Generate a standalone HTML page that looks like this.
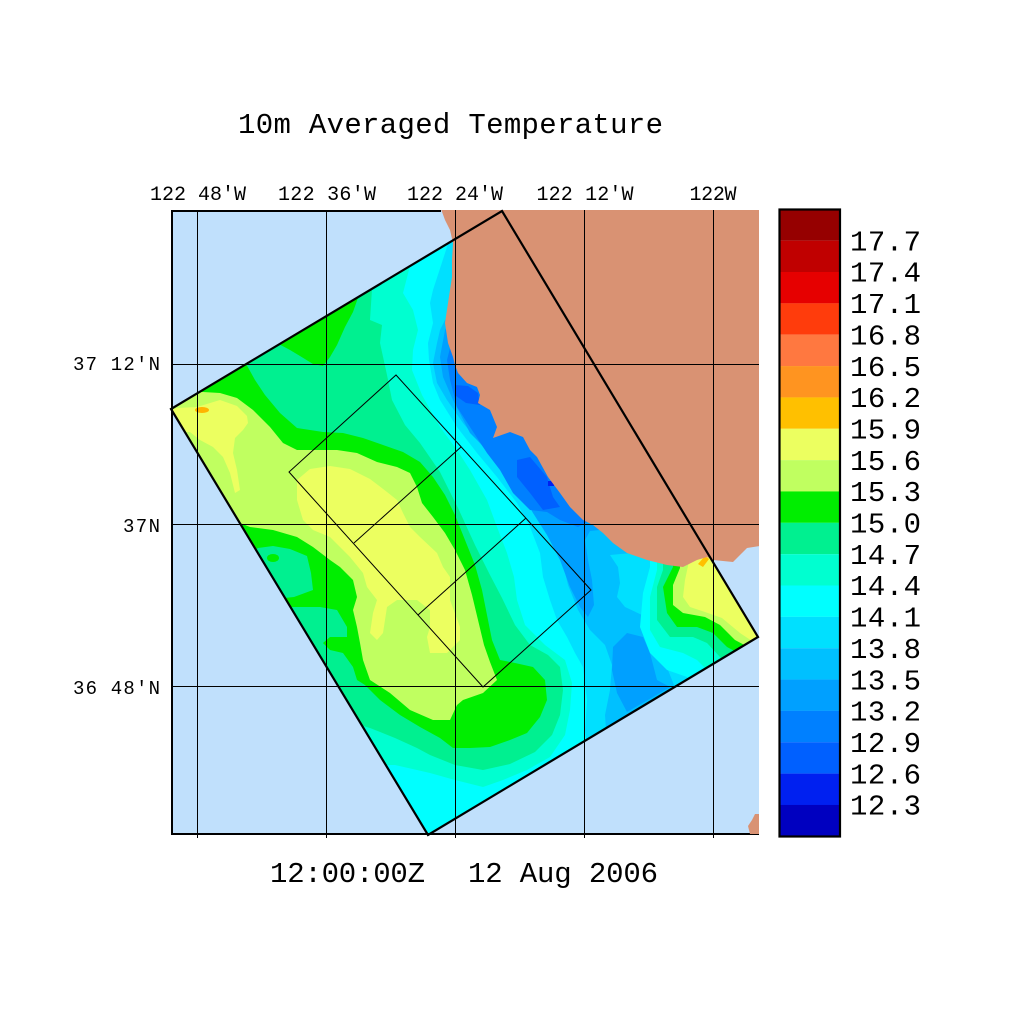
<!DOCTYPE html>
<html>
<head>
<meta charset="utf-8">
<style>
html,body{margin:0;padding:0;background:#fff;}
svg{display:block;}
text{font-family:"Liberation Mono","DejaVu Sans Mono",monospace;fill:#000;}
</style>
</head>
<body>
<svg width="1024" height="1024" viewBox="0 0 1024 1024" xmlns="http://www.w3.org/2000/svg">
<defs>
<clipPath id="dom"><polygon points="502,211 758,637 428,835 171,409"/></clipPath>
<clipPath id="frame"><rect x="171" y="210" width="588" height="625"/></clipPath>
</defs>
<rect width="1024" height="1024" fill="#fff"/>

<!-- Title -->
<text x="238" y="133" font-size="29" textLength="425" lengthAdjust="spacing">10m Averaged Temperature</text>

<!-- ocean background -->
<rect x="171" y="210" width="588" height="625" fill="#c0e0fc"/>

<g clip-path="url(#frame)">
<g clip-path="url(#dom)">
<rect x="150" y="200" width="620" height="650" fill="#00f090"/>
<!-- cold nested regions -->
<polygon fill="#00ffd0" points="372,280 372,289 370,320 382,325 380,343 387,375 392,400 405,425 420,443 440,472 458,508 475,545 490,575 502,598 515,625 530,645 548,655 560,667 563,690 560,715 552,735 535,752 510,764 483,770 455,765 430,755 417,748 395,738 370,728 350,722 400,860 780,660 780,200 372,200"/>
<polygon fill="#00ffff" points="410,255 410,266 403,293 413,310 418,330 413,350 412,370 422,395 440,427 457,450 470,470 487,500 497,527 507,553 514,577 517,600 525,625 545,645 565,660 572,683 570,710 565,735 550,757 527,770 503,780 483,787 455,780 430,773 417,770 395,765 375,765 420,860 780,660 780,200 410,200"/>
<polygon fill="#00e0ff" points="452,200 447,247 433,290 430,303 433,323 428,343 429,360 433,383 440,400 457,427 477,453 497,477 517,503 530,527 540,553 543,577 550,600 557,620 567,637 575,653 583,667 587,700 585,730 588,760 780,660 780,200"/>
<polygon fill="#00c0ff" points="470,200 458,300 445,320 440,330 437,343 433,363 437,383 447,400 463,423 483,447 500,467 513,487 527,503 543,522 555,540 562,560 568,585 578,610 590,630 605,645 612,665 610,690 605,715 607,745 780,660 780,200"/>
<polygon fill="#00a0ff" points="600,530 590,531 585,540 588,560 592,580 594,605 588,617 580,607 570,587 560,560 547,535 533,513 520,490 503,465 487,450 470,433 453,400 443,377 440,357 445,330 452,318 470,300 620,520"/>
<polygon fill="#00a0ff" points="613,647 627,633 643,637 650,653 657,680 670,687 653,697 627,712 617,693 612,670"/>
<polygon fill="#0080ff" points="452,340 447,360 450,380 457,407 470,427 487,453 500,470 513,493 530,510 547,512 560,520 578,527 600,515 560,460 500,400 470,350"/>
<polygon fill="#0060ff" points="517,460 530,457 547,477 553,497 560,507 543,510 530,493 517,477"/>
<polygon fill="#0060ff" points="455,385 468,386 478,393 480,405 466,403 456,396"/>
<rect x="548" y="481" width="6" height="5" fill="#0020f0"/>
<!-- SE warm patch -->
<polygon fill="#00e0ff" points="610,555 618,567 620,583 617,597 625,607 642,615 655,628 662,650 668,670 678,695 780,660 770,540"/>
<polygon fill="#00ffff" points="650,555 650,567 643,593 640,627 650,653 667,670 687,677 695,690 780,660 770,540"/>
<polygon fill="#00ffd0" points="657,555 657,570 650,597 650,630 660,647 683,653 697,660 712,675 780,660 770,540"/>
<polygon fill="#00f090" points="663,555 663,570 657,587 657,620 670,637 693,637 707,643 720,657 728,665 780,660 770,540"/>
<polygon fill="#00ee00" points="673,555 673,567 663,587 667,613 677,627 697,627 713,633 727,647 742,655 780,660 770,540"/>
<polygon fill="#c0ff60" points="680,555 680,568 673,585 673,605 683,613 705,617 720,625 735,640 750,648 780,660 770,540"/>
<polygon fill="#ecff60" points="690,555 688,566 685,580 683,597 690,607 705,612 722,618 740,633 755,643 780,660 770,540"/>
<polygon fill="#ffc000" points="698,564 705,556 709,559 703,567"/>
<!-- warm west -->
<polygon fill="#00ee00" points="195,388 245,362 255,380 265,395 280,413 297,428 323,432 343,433 363,438 383,445 403,452 420,462 433,477 445,495 455,515 465,540 475,565 482,590 487,615 492,640 500,660 515,663 533,667 545,680 547,700 540,717 527,733 510,740 490,747 470,748 453,748 440,738 420,727 400,715 380,700 365,685 357,680 353,667 343,653 330,650 323,643 330,637 347,637 347,627 337,610 320,607 290,607 270,610 200,470 160,405"/>
<polygon fill="#00f090" points="258,548 273,546 290,549 307,556 311,573 313,590 294,597 284,598 240,560"/>
<ellipse cx="273" cy="558" rx="6" ry="4" fill="#00ee00"/>
<polygon fill="#00ee00" points="275,342 360,292 353,312 345,327 337,345 330,357 323,366 313,364 300,356 290,350"/>
<polygon fill="#c0ff60" points="190,392 203,392 220,393 237,398 253,410 270,427 283,443 297,450 317,450 337,450 357,453 377,462 397,467 410,473 417,487 422,503 433,517 445,533 455,550 465,570 472,595 478,620 484,645 490,662 497,680 483,693 463,700 457,705 450,720 433,720 410,710 390,693 370,680 363,660 360,643 357,627 353,610 357,597 353,580 340,567 330,560 313,547 297,537 273,530 250,527 240,523 225,525 160,412"/>
<polygon fill="#ecff60" points="165,412 177,408 197,407 220,400 237,406 247,416 248,423 243,430 235,438 233,453 237,470 240,490 235,493 230,473 223,457 213,447 200,440 190,432 176,432"/>
<polygon fill="#ecff60" points="297,480 310,469 330,466 350,469 370,479 387,492 397,500 403,513 410,527 420,537 437,553 443,567 450,577 450,600 460,627 460,640 447,653 430,653 427,637 430,627 430,610 417,600 397,600 387,607 383,633 377,640 370,633 373,613 377,600 367,587 363,573 350,557 330,537 313,530 303,520 297,500"/>
<ellipse cx="202" cy="410" rx="7" ry="3" fill="#ffb400"/>
</g>

<!-- frame lines -->
<line x1="171" y1="211" x2="441" y2="211" stroke="#000" stroke-width="2"/>
<line x1="172" y1="210" x2="172" y2="835" stroke="#000" stroke-width="2"/>
<line x1="171" y1="834" x2="759" y2="834" stroke="#000" stroke-width="2"/>

<!-- land -->
<polygon fill="#d99273" points="441,209 445,220 450,230 453,243 452,260 452,277 448,303 445,323 448,343 453,357 455,365 458,373 467,383 477,387 480,395 478,403 490,410 497,427 493,438 510,432 523,437 530,450 537,457 548,477 560,493 570,507 583,520 593,525 603,533 613,543 627,553 647,560 667,565 683,567 697,560 707,557 713,560 733,562 742,553 747,548 760,546 760,209"/>
<polygon fill="#d99273" points="750,834 748,826 752,820 755,814 760,814 760,834"/>
</g>

<!-- grid -->
<g stroke="#000" stroke-width="1">
<line x1="197.5" y1="210" x2="197.5" y2="838"/>
<line x1="326.5" y1="210" x2="326.5" y2="838"/>
<line x1="455.5" y1="210" x2="455.5" y2="838"/>
<line x1="584.5" y1="210" x2="584.5" y2="838"/>
<line x1="713.5" y1="210" x2="713.5" y2="838"/>
<line x1="171" y1="364.5" x2="759" y2="364.5"/>
<line x1="171" y1="524.5" x2="759" y2="524.5"/>
<line x1="171" y1="686.5" x2="759" y2="686.5"/>
</g>

<!-- domain outline -->
<polygon points="502,211 758,637 428,835 171,409" fill="none" stroke="#000" stroke-width="2.2" stroke-linejoin="miter"/>
<!-- inner boxes -->
<g fill="none" stroke="#000" stroke-width="1">
<polygon points="396,375 591,590 483,687 289,472"/>
<line x1="461" y1="447" x2="354" y2="543"/>
<line x1="526" y1="518" x2="418" y2="615"/>
</g>

<!-- lon labels -->
<g font-size="20" text-anchor="middle">
<text x="198" y="200" textLength="96" lengthAdjust="spacing">122 48'W</text>
<text x="327" y="200" textLength="98" lengthAdjust="spacing">122 36'W</text>
<text x="455" y="200" textLength="96" lengthAdjust="spacing">122 24'W</text>
<text x="585" y="200" textLength="97" lengthAdjust="spacing">122 12'W</text>
<text x="713" y="200" textLength="47" lengthAdjust="spacing">122W</text>
</g>
<!-- lat labels -->
<g font-size="19" text-anchor="end">
<text x="160" y="370" textLength="87" lengthAdjust="spacing">37 12'N</text>
<text x="160" y="532" textLength="37" lengthAdjust="spacing">37N</text>
<text x="160" y="694" textLength="87" lengthAdjust="spacing">36 48'N</text>
</g>

<!-- time label -->
<text x="270" y="882" font-size="29" textLength="155" lengthAdjust="spacing">12:00:00Z</text>
<text x="468" y="882" font-size="29" textLength="190" lengthAdjust="spacing">12 Aug 2006</text>

<!-- colorbar -->
<g>
<rect x="780" y="209.3" width="60" height="31.4" fill="#960000"/>
<rect x="780" y="240.65" width="60" height="31.4" fill="#c00000"/>
<rect x="780" y="272.0" width="60" height="31.4" fill="#e60000"/>
<rect x="780" y="303.35" width="60" height="31.4" fill="#ff3c0c"/>
<rect x="780" y="334.7" width="60" height="31.4" fill="#ff7840"/>
<rect x="780" y="366.05" width="60" height="31.4" fill="#ff9420"/>
<rect x="780" y="397.4" width="60" height="31.4" fill="#ffc000"/>
<rect x="780" y="428.75" width="60" height="31.4" fill="#ecff60"/>
<rect x="780" y="460.1" width="60" height="31.4" fill="#c0ff60"/>
<rect x="780" y="491.45" width="60" height="31.4" fill="#00ee00"/>
<rect x="780" y="522.8" width="60" height="31.4" fill="#00f090"/>
<rect x="780" y="554.15" width="60" height="31.4" fill="#00ffd0"/>
<rect x="780" y="585.5" width="60" height="31.4" fill="#00ffff"/>
<rect x="780" y="616.85" width="60" height="31.4" fill="#00e0ff"/>
<rect x="780" y="648.2" width="60" height="31.4" fill="#00c0ff"/>
<rect x="780" y="679.55" width="60" height="31.4" fill="#00a0ff"/>
<rect x="780" y="710.9" width="60" height="31.4" fill="#0080ff"/>
<rect x="780" y="742.25" width="60" height="31.4" fill="#0060ff"/>
<rect x="780" y="773.6" width="60" height="31.4" fill="#0020f0"/>
<rect x="780" y="804.95" width="60" height="31.4" fill="#0000c0"/>
<rect x="779.5" y="209.5" width="60.5" height="627" fill="none" stroke="#000" stroke-width="2.2"/>
</g>
<g font-size="29">
<text x="850" y="250.4" textLength="71" lengthAdjust="spacing">17.7</text>
<text x="850" y="281.7" textLength="71" lengthAdjust="spacing">17.4</text>
<text x="850" y="313.1" textLength="71" lengthAdjust="spacing">17.1</text>
<text x="850" y="344.4" textLength="71" lengthAdjust="spacing">16.8</text>
<text x="850" y="375.8" textLength="71" lengthAdjust="spacing">16.5</text>
<text x="850" y="407.1" textLength="71" lengthAdjust="spacing">16.2</text>
<text x="850" y="438.5" textLength="71" lengthAdjust="spacing">15.9</text>
<text x="850" y="469.8" textLength="71" lengthAdjust="spacing">15.6</text>
<text x="850" y="501.2" textLength="71" lengthAdjust="spacing">15.3</text>
<text x="850" y="532.5" textLength="71" lengthAdjust="spacing">15.0</text>
<text x="850" y="563.9" textLength="71" lengthAdjust="spacing">14.7</text>
<text x="850" y="595.2" textLength="71" lengthAdjust="spacing">14.4</text>
<text x="850" y="626.6" textLength="71" lengthAdjust="spacing">14.1</text>
<text x="850" y="657.9" textLength="71" lengthAdjust="spacing">13.8</text>
<text x="850" y="689.3" textLength="71" lengthAdjust="spacing">13.5</text>
<text x="850" y="720.6" textLength="71" lengthAdjust="spacing">13.2</text>
<text x="850" y="752.0" textLength="71" lengthAdjust="spacing">12.9</text>
<text x="850" y="783.3" textLength="71" lengthAdjust="spacing">12.6</text>
<text x="850" y="814.7" textLength="71" lengthAdjust="spacing">12.3</text>
</g>
</svg>
</body>
</html>
